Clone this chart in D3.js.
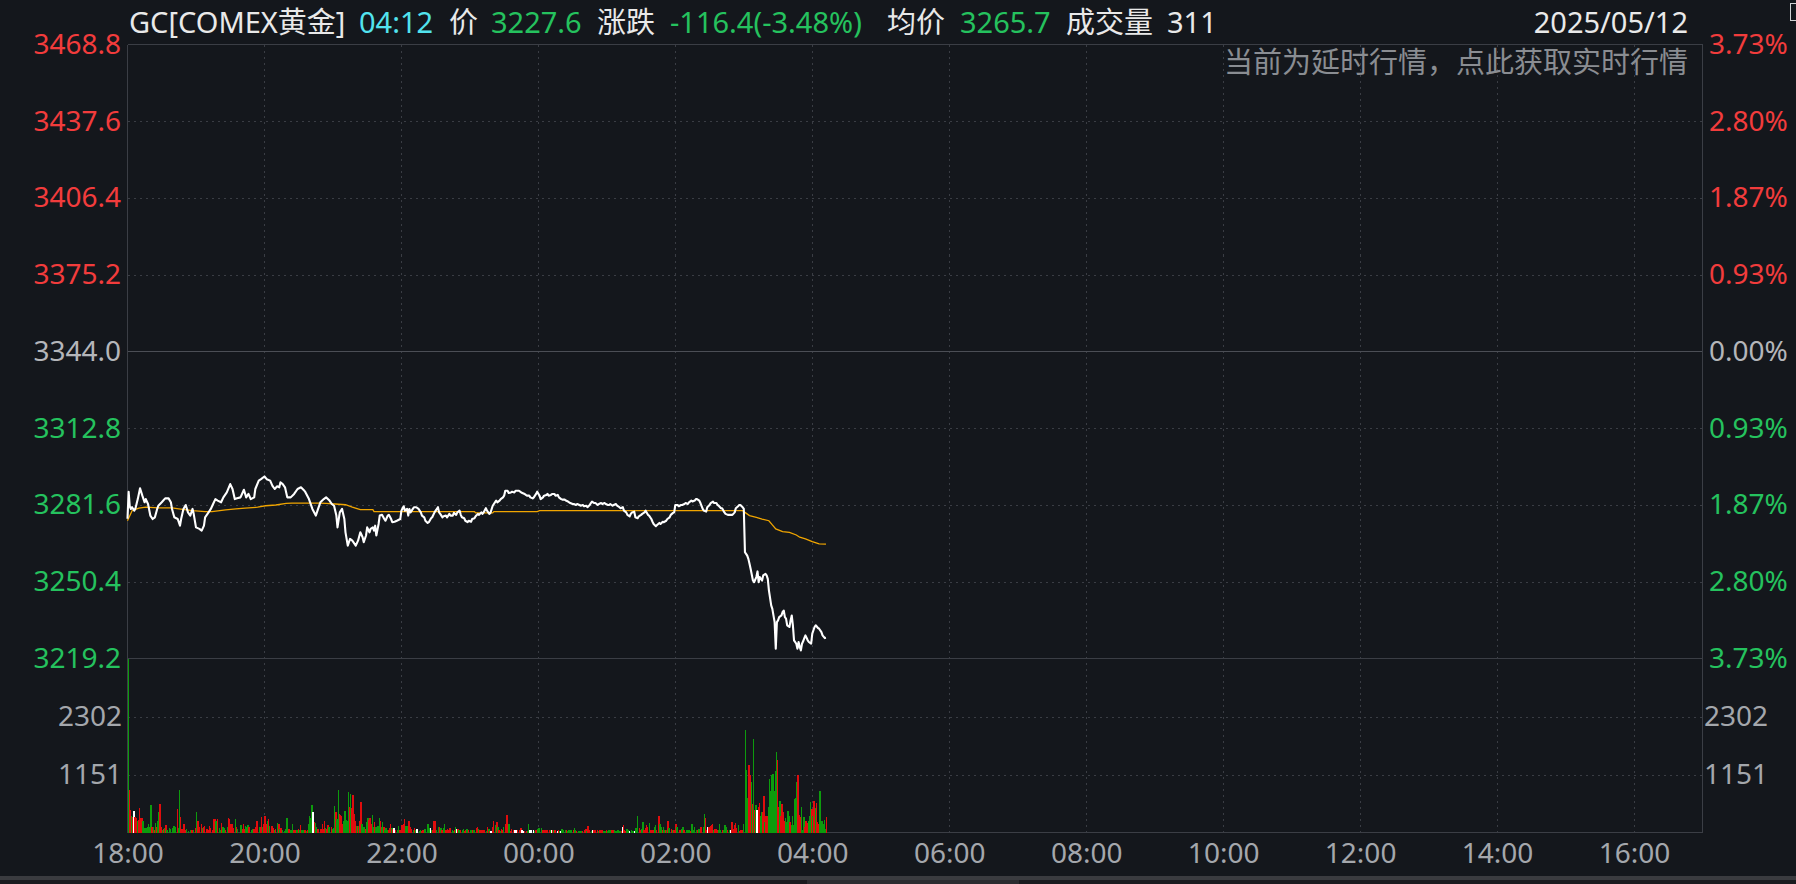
<!DOCTYPE html>
<html><head><meta charset="utf-8">
<script src="https://cdn.jsdelivr.net/npm/d3@7"></script>
<style>
html,body{margin:0;padding:0;background:#14171c;overflow:hidden}
svg{display:block}
text{font-family:"Noto Sans","Noto Sans CJK SC",sans-serif}
</style></head><body>
<svg id="c" width="1796" height="884"></svg>
<script>
// ---------- data ----------
const prevClose = 3344.0;
const priceTicks = [3468.8, 3437.6, 3406.4, 3375.2, 3344.0, 3312.8, 3281.6, 3250.4, 3219.2];
const pctLabels = ["3.73%", "2.80%", "1.87%", "0.93%", "0.00%", "0.93%", "1.87%", "2.80%", "3.73%"];
const volTicks = [1151, 2302];
const volMax = 3453;
const sessionMinutes = 1380; // 18:00 -> 17:00
const timeTicks = [0, 120, 240, 360, 480, 600, 720, 840, 960, 1080, 1200, 1320];
const timeLabels = ["18:00", "20:00", "22:00", "00:00", "02:00", "04:00", "06:00", "08:00", "10:00", "12:00", "14:00", "16:00"];

const headerItems = [
  ["GC[COMEX黄金]", "name"], ["04:12", "time"], ["价", "label"], ["3227.6", "down"],
  ["涨跌", "label"], ["-116.4(-3.48%)", "down"], ["均价", "label"], ["3265.7", "down"],
  ["成交量", "label"], ["311", "label"]
];
const dateText = "2025/05/12";
const noticeText = "当前为延时行情，点此获取实时行情";

// [minute from 18:00, price]
const pricePoints = [
[0,3276.0],[1,3287.0],[2,3281.0],[3,3280.0],[4,3280.7],[6,3279.3],[7,3280.3],[9,3284.0],[11,3288.4],[13,3285.4],
[15,3282.7],[16,3284.0],[18,3282.0],[20,3277.3],[22,3275.9],[24,3276.6],[26,3280.0],[27,3281.3],[30,3282.7],[33,3284.3],
[36,3284.3],[38,3282.7],[39,3280.0],[41,3276.6],[44,3275.9],[46,3273.2],[47,3275.9],[49,3280.0],[51,3281.6],[53,3278.6],
[55,3277.3],[57,3280.0],[58,3278.0],[60,3272.5],[63,3271.9],[65,3271.2],[67,3273.2],[68,3276.6],[71,3278.6],[73,3280.0],
[75,3282.0],[77,3284.0],[79,3283.4],[82,3282.7],[84,3284.7],[87,3286.7],[90,3290.1],[92,3288.1],[94,3284.0],[96,3284.3],
[99,3284.7],[102,3287.8],[104,3284.7],[106,3286.1],[108,3284.0],[111,3284.7],[112,3288.1],[115,3291.5],[117,3292.1],[120,3293.2],
[122,3292.1],[125,3291.5],[127,3289.4],[129,3288.1],[131,3289.2],[133,3288.8],[134,3290.8],[136,3290.1],[138,3288.8],[140,3284.7],
[143,3284.7],[146,3286.1],[149,3288.1],[152,3288.8],[155,3287.4],[156,3286.7],[159,3284.0],[162,3280.0],[165,3277.3],[167,3280.0],
[169,3282.7],[172,3284.0],[174,3284.7],[177,3283.4],[179,3282.0],[181,3281.3],[183,3277.3],[184,3272.5],[186,3278.6],[188,3280.0],
[190,3275.9],[191,3270.5],[193,3265.1],[195,3267.8],[197,3267.1],[200,3265.1],[202,3267.1],[204,3270.5],[206,3268.5],[207,3266.5],
[209,3269.2],[210,3272.5],[212,3270.5],[213,3271.9],[215,3272.5],[216,3271.2],[217,3273.2],[218,3269.2],[220,3273.9],[221,3277.3],
[223,3277.6],[225,3275.9],[226,3275.2],[228,3277.3],[229,3277.6],[231,3275.9],[232,3274.6],[234,3274.8],[236,3275.2],[239,3275.9],
[240,3279.3],[242,3281.1],[243,3279.3],[245,3280.0],[246,3277.3],[247,3280.0],[248,3278.6],[250,3280.0],[251,3280.7],[253,3280.7],
[255,3280.0],[257,3278.6],[258,3277.3],[260,3276.6],[261,3275.2],[263,3274.3],[264,3274.6],[266,3276.2],[267,3276.6],[269,3278.6],
[270,3279.3],[272,3280.7],[273,3278.6],[274,3278.0],[276,3276.6],[277,3277.0],[279,3277.3],[280,3276.6],[282,3278.0],[283,3277.3],
[285,3277.3],[286,3278.4],[288,3277.6],[289,3278.6],[291,3279.3],[292,3277.6],[293,3276.6],[295,3276.2],[296,3275.2],[298,3274.6],
[299,3275.2],[301,3274.8],[302,3275.9],[304,3276.2],[305,3277.0],[307,3278.0],[308,3277.6],[310,3278.6],[311,3278.0],[312,3278.6],
[314,3280.3],[315,3279.3],[317,3278.0],[318,3278.4],[320,3281.3],[321,3282.0],[323,3283.4],[324,3282.7],[326,3283.4],[327,3284.0],
[329,3284.7],[330,3285.4],[331,3287.4],[333,3287.4],[334,3286.5],[336,3286.7],[337,3287.0],[339,3286.7],[340,3287.4],[342,3287.4],
[343,3287.4],[345,3286.7],[346,3286.5],[348,3286.1],[349,3285.7],[350,3285.4],[352,3285.4],[353,3284.7],[355,3284.3],[356,3284.7],
[358,3286.1],[359,3287.0],[361,3285.4],[362,3284.0],[364,3284.7],[365,3285.4],[367,3285.7],[368,3286.1],[369,3285.4],[371,3285.7],
[372,3286.1],[374,3286.1],[375,3285.4],[377,3285.7],[378,3284.7],[380,3284.0],[381,3283.8],[383,3283.8],[384,3283.4],[386,3283.0],
[387,3282.7],[388,3282.4],[390,3282.0],[391,3282.0],[393,3281.6],[394,3282.0],[396,3281.6],[397,3281.3],[399,3281.6],[400,3281.1],
[402,3281.3],[403,3280.7],[405,3281.6],[406,3282.4],[407,3283.0],[409,3282.4],[410,3282.4],[412,3281.6],[413,3282.0],[415,3282.4],
[416,3282.0],[418,3282.4],[419,3282.0],[421,3281.6],[422,3281.6],[423,3282.0],[425,3281.3],[426,3281.6],[428,3282.0],[429,3281.3],
[431,3280.7],[432,3280.3],[434,3280.7],[435,3279.3],[437,3278.6],[438,3277.6],[440,3277.0],[441,3278.0],[442,3278.6],[444,3278.9],
[445,3276.6],[447,3276.2],[448,3277.0],[450,3277.6],[451,3278.0],[453,3278.6],[454,3279.3],[456,3277.6],[457,3277.3],[459,3275.9],
[460,3274.8],[461,3273.9],[463,3273.0],[464,3273.5],[466,3274.3],[467,3273.9],[469,3274.8],[470,3274.6],[472,3275.2],[473,3275.9],
[475,3276.6],[476,3277.6],[478,3278.4],[479,3278.6],[480,3281.6],[482,3281.6],[483,3281.1],[485,3281.6],[486,3281.6],[488,3282.0],
[489,3282.4],[491,3282.0],[492,3282.7],[494,3283.4],[495,3283.0],[497,3283.4],[498,3284.0],[499,3284.0],[501,3283.4],[502,3282.4],
[504,3280.0],[505,3279.3],[507,3278.9],[508,3280.7],[510,3281.6],[511,3282.4],[513,3283.0],[514,3282.4],[516,3282.4],[517,3281.6],
[518,3281.3],[520,3280.3],[521,3280.3],[523,3278.6],[524,3278.0],[526,3277.6],[527,3277.6],[529,3277.6],[530,3277.6],[532,3278.6],
[533,3280.3],[535,3281.1],[536,3281.6],[537,3281.6],[539,3280.7],[540,3280.0],[541,3262.4],[542,3261.7],[543,3261.0],[544,3259.7],
[545,3257.7],[546,3255.6],[548,3250.9],[549,3250.2],[551,3252.3],[552,3254.6],[553,3250.2],[554,3252.3],[556,3250.9],[557,3253.0],
[559,3253.6],[560,3253.0],[561,3251.6],[562,3246.9],[564,3240.8],[565,3239.4],[567,3234.0],[568,3223.2],[569,3234.0],[570,3234.7],
[571,3236.0],[573,3236.7],[574,3238.1],[575,3238.7],[576,3236.0],[577,3235.4],[578,3232.7],[580,3232.0],[581,3234.7],[582,3236.7],
[583,3232.7],[584,3226.6],[586,3225.2],[587,3223.2],[588,3225.9],[589,3223.9],[590,3222.5],[591,3225.2],[592,3226.2],[593,3227.5],
[594,3228.6],[596,3226.6],[597,3225.9],[599,3225.2],[600,3229.3],[602,3232.0],[603,3232.7],[605,3231.6],[606,3231.3],[608,3229.9],
[609,3228.6],[611,3227.5],[612,3227.6]
];

// [minute, average price]
const avgPoints = [
[0,3275.2],[4,3279.3],[10,3280.3],[16,3280.7],[27,3280.4],[39,3280.4],[45,3280.0],[57,3279.3],[68,3278.9],[74,3278.9],
[86,3279.6],[95,3280.0],[103,3280.3],[114,3280.7],[121,3281.3],[130,3281.6],[139,3282.3],[144,3282.4],[168,3282.4],[174,3282.3],
[182,3282.0],[191,3281.7],[197,3280.7],[204,3279.7],[215,3279.7],[216,3278.9],[304,3278.9],[305,3278.4],[320,3278.4],[321,3278.9],
[359,3278.9],[361,3279.3],[539,3279.3],[541,3278.6],[545,3277.3],[551,3276.6],[556,3275.9],[562,3275.2],[565,3273.5],[568,3271.9],
[574,3270.8],[580,3270.5],[586,3269.4],[589,3268.5],[594,3267.8],[600,3266.7],[606,3265.8],[612,3265.7]
];

// [minute, volume, direction r=up g=down w=flat]
const volumeBars = [
[0,3453,"g"],[1,853,"r"],[2,437,"r"],[3,337,"g"],[4,304,"r"],[5,423,"w"],[6,304,"r"],[7,291,"r"],[8,238,"g"],[9,251,"r"],
[10,489,"r"],[11,291,"r"],[12,291,"r"],[13,238,"g"],[14,93,"g"],[15,93,"g"],[16,93,"g"],[17,119,"g"],[18,172,"g"],[19,106,"g"],
[20,536,"g"],[21,119,"r"],[22,119,"g"],[23,53,"r"],[24,198,"g"],[25,119,"r"],[26,238,"g"],[27,397,"g"],[28,556,"r"],[29,119,"r"],
[30,53,"g"],[31,73,"r"],[32,93,"g"],[33,139,"r"],[34,40,"g"],[36,93,"g"],[37,73,"g"],[39,93,"g"],[40,132,"g"],[41,119,"g"],
[43,476,"r"],[44,93,"g"],[45,853,"g"],[46,317,"r"],[47,73,"r"],[49,159,"r"],[50,40,"r"],[51,66,"g"],[53,20,"g"],[55,53,"g"],
[56,40,"r"],[57,40,"g"],[59,86,"r"],[60,397,"g"],[61,238,"r"],[62,119,"r"],[64,172,"r"],[65,93,"g"],[66,106,"r"],[67,132,"r"],
[69,73,"r"],[70,40,"r"],[71,132,"r"],[72,93,"r"],[74,40,"r"],[75,258,"r"],[76,271,"r"],[77,238,"g"],[78,265,"r"],[80,93,"g"],
[81,40,"g"],[82,192,"r"],[83,119,"g"],[84,93,"g"],[85,40,"r"],[87,106,"g"],[88,278,"r"],[89,258,"r"],[90,172,"r"],[91,159,"r"],
[92,93,"r"],[94,258,"g"],[95,119,"r"],[96,73,"g"],[99,139,"g"],[100,79,"r"],[101,159,"r"],[102,66,"r"],[103,132,"g"],[104,119,"g"],
[105,152,"g"],[106,119,"r"],[108,40,"g"],[109,73,"g"],[110,73,"r"],[111,66,"r"],[112,106,"r"],[113,238,"r"],[115,119,"g"],[116,106,"r"],
[117,317,"r"],[118,119,"g"],[119,172,"r"],[120,331,"r"],[121,172,"r"],[122,238,"g"],[123,265,"r"],[124,132,"g"],[126,132,"r"],[127,93,"r"],
[128,40,"g"],[129,73,"r"],[131,198,"g"],[132,172,"r"],[133,79,"g"],[134,93,"r"],[135,40,"g"],[137,26,"g"],[138,73,"g"],[139,278,"g"],
[141,66,"r"],[142,40,"g"],[143,53,"g"],[144,159,"g"],[145,53,"r"],[146,40,"r"],[148,53,"g"],[149,60,"r"],[150,40,"g"],[151,139,"r"],
[152,40,"g"],[153,53,"g"],[155,40,"r"],[156,26,"g"],[157,53,"r"],[158,159,"g"],[159,337,"g"],[160,291,"g"],[161,536,"g"],[162,397,"w"],
[163,205,"r"],[164,198,"g"],[165,106,"g"],[166,73,"r"],[167,66,"r"],[169,73,"r"],[170,159,"r"],[171,66,"r"],[172,238,"r"],[173,93,"g"],
[174,66,"r"],[175,139,"r"],[176,119,"g"],[178,106,"r"],[179,73,"g"],[180,93,"g"],[181,516,"g"],[182,403,"r"],[183,265,"g"],[184,853,"g"],
[185,370,"r"],[186,357,"r"],[187,331,"r"],[188,159,"r"],[189,238,"g"],[190,423,"g"],[191,251,"g"],[192,225,"g"],[193,813,"g"],[194,503,"r"],
[195,767,"g"],[196,489,"r"],[197,754,"r"],[198,370,"r"],[199,238,"r"],[200,132,"g"],[201,132,"r"],[202,132,"g"],[203,238,"r"],[204,615,"r"],
[205,159,"g"],[206,119,"g"],[207,106,"g"],[208,66,"r"],[209,212,"g"],[210,291,"g"],[211,251,"r"],[212,278,"r"],[213,172,"r"],[214,357,"g"],
[215,119,"g"],[216,218,"r"],[217,106,"g"],[218,79,"g"],[219,132,"g"],[220,291,"g"],[221,238,"r"],[222,106,"g"],[223,218,"g"],[224,119,"r"],
[225,40,"g"],[226,93,"g"],[227,40,"g"],[228,53,"r"],[229,93,"r"],[230,172,"r"],[231,93,"g"],[232,66,"r"],[233,93,"w"],[234,40,"r"],
[236,40,"g"],[237,132,"g"],[238,40,"r"],[239,40,"r"],[240,146,"r"],[241,172,"r"],[242,258,"r"],[243,132,"g"],[244,132,"g"],[245,132,"g"],
[246,238,"r"],[247,119,"r"],[248,66,"r"],[250,40,"g"],[251,93,"r"],[252,40,"g"],[253,66,"w"],[255,26,"g"],[256,40,"g"],[257,26,"r"],
[258,53,"r"],[259,40,"r"],[260,73,"g"],[262,159,"g"],[263,159,"g"],[264,93,"g"],[265,93,"w"],[266,40,"g"],[267,53,"r"],[268,238,"r"],
[269,238,"r"],[270,40,"g"],[272,106,"g"],[273,119,"r"],[274,93,"g"],[275,53,"r"],[276,93,"g"],[277,159,"g"],[278,53,"r"],[279,40,"r"],
[280,73,"r"],[281,40,"r"],[282,93,"r"],[284,40,"g"],[285,26,"g"],[286,40,"r"],[287,119,"g"],[288,66,"w"],[289,66,"r"],[290,40,"g"],
[291,40,"r"],[293,40,"g"],[294,73,"g"],[295,26,"r"],[296,40,"r"],[297,66,"g"],[298,40,"r"],[300,40,"g"],[301,40,"g"],[302,53,"r"],
[303,40,"g"],[305,93,"r"],[306,119,"r"],[307,66,"g"],[308,53,"r"],[309,53,"r"],[311,40,"r"],[312,53,"r"],[314,26,"g"],[315,119,"r"],
[316,66,"g"],[317,26,"r"],[318,26,"w"],[319,106,"r"],[320,238,"r"],[322,139,"g"],[323,218,"r"],[324,106,"g"],[325,53,"r"],[326,26,"g"],
[327,73,"r"],[328,40,"r"],[329,106,"g"],[331,159,"r"],[332,357,"r"],[333,159,"g"],[334,159,"g"],[335,26,"r"],[336,66,"r"],[338,53,"r"],
[339,40,"w"],[340,40,"w"],[341,53,"r"],[343,53,"r"],[344,86,"r"],[345,40,"w"],[346,26,"w"],[347,26,"r"],[349,26,"r"],[350,26,"g"],
[351,159,"g"],[352,40,"w"],[353,40,"w"],[355,40,"w"],[356,26,"g"],[357,40,"r"],[358,40,"r"],[359,73,"g"],[360,93,"g"],[362,93,"g"],
[363,40,"r"],[364,40,"r"],[365,40,"r"],[366,40,"r"],[367,40,"r"],[369,40,"r"],[370,40,"g"],[371,40,"w"],[372,40,"r"],[373,40,"g"],
[374,40,"r"],[376,26,"w"],[377,40,"r"],[378,26,"g"],[379,26,"w"],[380,79,"g"],[381,53,"g"],[383,40,"g"],[384,40,"r"],[385,26,"g"],
[386,53,"g"],[387,40,"g"],[388,53,"g"],[390,40,"r"],[391,93,"g"],[392,40,"g"],[393,26,"r"],[395,26,"g"],[396,26,"g"],[397,26,"g"],
[398,26,"r"],[400,53,"r"],[401,66,"r"],[402,26,"g"],[403,132,"r"],[404,53,"r"],[406,26,"g"],[407,40,"w"],[408,40,"r"],[409,40,"r"],
[411,40,"r"],[412,26,"g"],[413,40,"r"],[414,40,"r"],[415,40,"r"],[417,26,"g"],[418,26,"g"],[419,40,"r"],[420,26,"g"],[421,40,"g"],
[422,40,"g"],[424,40,"r"],[425,40,"r"],[426,40,"g"],[427,26,"g"],[428,26,"g"],[429,40,"g"],[431,26,"g"],[432,26,"r"],[433,106,"w"],
[434,152,"r"],[435,40,"r"],[436,26,"r"],[437,66,"g"],[438,40,"g"],[439,26,"w"],[441,40,"g"],[442,26,"g"],[443,26,"g"],[444,26,"w"],
[445,93,"g"],[446,337,"g"],[448,93,"r"],[449,40,"r"],[450,66,"g"],[451,218,"g"],[452,40,"r"],[453,93,"r"],[454,139,"r"],[455,106,"r"],
[457,198,"g"],[458,40,"r"],[459,40,"r"],[460,40,"r"],[461,106,"g"],[462,152,"g"],[463,40,"r"],[465,337,"r"],[466,159,"g"],[467,106,"g"],
[468,40,"r"],[469,106,"g"],[470,40,"g"],[471,40,"r"],[472,40,"g"],[473,238,"r"],[474,93,"g"],[476,73,"r"],[477,40,"g"],[478,40,"r"],
[479,40,"r"],[480,172,"r"],[481,106,"g"],[483,40,"r"],[484,40,"r"],[485,66,"g"],[486,119,"g"],[487,40,"r"],[489,53,"g"],[490,53,"g"],
[491,53,"g"],[492,40,"g"],[493,26,"r"],[494,172,"g"],[495,40,"g"],[496,119,"g"],[498,40,"g"],[499,40,"r"],[500,73,"g"],[501,73,"g"],
[502,106,"r"],[504,106,"g"],[505,370,"g"],[506,278,"r"],[507,53,"r"],[508,106,"w"],[509,119,"r"],[510,132,"r"],[511,139,"r"],[512,172,"r"],
[513,40,"g"],[514,79,"r"],[515,66,"r"],[516,40,"r"],[517,40,"g"],[518,172,"g"],[519,53,"g"],[521,40,"r"],[522,40,"g"],[523,139,"g"],
[524,106,"g"],[525,40,"r"],[527,53,"g"],[528,40,"w"],[529,212,"r"],[530,66,"r"],[531,139,"r"],[532,198,"r"],[533,93,"r"],[535,139,"g"],
[536,26,"r"],[537,40,"r"],[538,40,"r"],[539,159,"g"],[541,2037,"g"],[542,1243,"g"],[543,688,"g"],[544,1349,"r"],[545,1144,"r"],[546,1012,"g"],
[547,569,"r"],[548,1865,"g"],[549,437,"r"],[550,549,"g"],[551,437,"w"],[552,503,"r"],[553,595,"r"],[554,318,"g"],[555,397,"g"],[556,397,"r"],
[557,734,"r"],[558,205,"g"],[559,318,"r"],[560,318,"r"],[561,503,"g"],[562,1065,"g"],[563,833,"g"],[564,1151,"g"],[565,1164,"g"],[566,833,"g"],
[567,1230,"g"],[568,1607,"g"],[569,1429,"r"],[570,503,"r"],[571,635,"g"],[572,318,"r"],[573,569,"r"],[574,410,"r"],[575,238,"r"],[576,291,"g"],
[577,205,"g"],[578,417,"g"],[579,337,"g"],[580,205,"r"],[581,139,"g"],[582,337,"g"],[583,139,"g"],[584,655,"g"],[585,688,"g"],[586,999,"g"],
[587,1151,"r"],[588,357,"r"],[589,304,"r"],[590,503,"g"],[591,40,"g"],[592,304,"g"],[593,119,"r"],[594,238,"r"],[595,185,"r"],[596,225,"g"],
[597,318,"g"],[598,602,"g"],[599,476,"r"],[600,337,"g"],[601,635,"r"],[602,483,"g"],[603,589,"r"],[604,218,"r"],[605,172,"r"],[606,833,"g"],
[607,139,"g"],[608,238,"g"],[609,172,"g"],[610,251,"g"],[611,79,"g"],[612,311,"r"]
];

// ---------- drawing ----------
const W = 1796, H = 884;
const L = 127.5, R = 1702.5, PT = 44.5, PB = 658.5, VB = 832.5;
const C = {
  bg: "#14171c", grid: "#3a3d44", frame: "#3b3e45", zero: "#4b4e55",
  up: "#f23c3c", down: "#25c25e", flat: "#b4b6ba", axisGray: "#a4a7ac",
  white: "#e9e9e9", cyan: "#52e3ee", notice: "#8a8d92",
  price: "#ffffff", avg: "#f0a500",
  barUp: "#e00d0d", barDown: "#0d9b0d", barFlat: "#ffffff"
};
const FS = 28;

const svg = d3.select("#c");
svg.append("rect").attr("width", W).attr("height", H).attr("fill", C.bg);

const x = d3.scaleLinear().domain([0, sessionMinutes]).range([L, R]);
const y = d3.scaleLinear().domain([priceTicks[priceTicks.length - 1], priceTicks[0]]).range([PB, PT]);
const yv = d3.scaleLinear().domain([0, volMax]).range([VB, PB]);

const grid = svg.append("g").attr("shape-rendering", "crispEdges");
grid.selectAll("line.vg").data(timeTicks.slice(1)).join("line")
  .attr("x1", d => Math.round(x(d)) + 0.5).attr("x2", d => Math.round(x(d)) + 0.5)
  .attr("y1", PT).attr("y2", VB)
  .attr("stroke", C.grid).attr("stroke-dasharray", "2,4");
grid.selectAll("line.hg").data(priceTicks.filter(d => d !== prevClose && d !== priceTicks[0] && d !== priceTicks[priceTicks.length - 1])).join("line")
  .attr("x1", L).attr("x2", R)
  .attr("y1", d => Math.round(y(d)) + 0.5).attr("y2", d => Math.round(y(d)) + 0.5)
  .attr("stroke", C.grid).attr("stroke-dasharray", "2,4");
grid.selectAll("line.vgg").data(volTicks).join("line")
  .attr("x1", L).attr("x2", R)
  .attr("y1", d => Math.round(yv(d)) + 0.5).attr("y2", d => Math.round(yv(d)) + 0.5)
  .attr("stroke", C.grid).attr("stroke-dasharray", "2,4");
[[L, PT, R, PT, C.frame], [L, PB, R, PB, C.frame], [L, VB, R, VB, C.frame],
 [L, y(prevClose), R, y(prevClose), C.zero], [L, PT, L, VB, C.frame], [R, PT, R, VB, C.frame]]
 .forEach(s => grid.append("line").attr("x1", s[0]).attr("y1", s[1]).attr("x2", s[2]).attr("y2", s[3]).attr("stroke", s[4]));

// volume bars
const barColor = { r: C.barUp, g: C.barDown, w: C.barFlat };
svg.append("g").attr("shape-rendering", "crispEdges")
  .selectAll("rect").data(volumeBars).join("rect")
  .attr("x", d => x(d[0]))
  .attr("width", 1.4)
  .attr("y", d => yv(d[1]))
  .attr("height", d => VB - yv(d[1]))
  .attr("fill", d => barColor[d[2]]);

// average and price lines
const line = d3.line().x(d => x(d[0])).y(d => y(d[1]));
svg.append("path").datum(avgPoints).attr("d", line)
  .attr("fill", "none").attr("stroke", C.avg).attr("stroke-width", 1.3);
svg.append("path").datum(pricePoints).attr("d", line)
  .attr("fill", "none").attr("stroke", C.price).attr("stroke-width", 2.1).attr("stroke-linejoin", "round");

// axes
function styleAxis(g) {
  g.select(".domain").remove();
  g.selectAll(".tick line").remove();
  g.selectAll("text").attr("font-size", FS).attr("font-family", '"Noto Sans","Noto Sans CJK SC",sans-serif');
}
const priceColor = d => d > prevClose ? C.up : (d < prevClose ? C.down : C.flat);

svg.append("g").attr("transform", "translate(121,0)")
  .call(d3.axisLeft(y).tickValues(priceTicks).tickFormat(d => d.toFixed(1)).tickSize(0).tickPadding(0))
  .call(styleAxis)
  .selectAll(".tick text").attr("fill", d => priceColor(d));

svg.append("g").attr("transform", "translate(1709,0)")
  .call(d3.axisRight(y).tickValues(priceTicks).tickFormat((d, i) => pctLabels[i]).tickSize(0).tickPadding(0))
  .call(styleAxis)
  .selectAll(".tick text").attr("fill", d => priceColor(d));

svg.append("g").attr("transform", "translate(122,0)")
  .call(d3.axisLeft(yv).tickValues(volTicks).tickFormat(d3.format("d")).tickSize(0).tickPadding(0))
  .call(styleAxis)
  .selectAll(".tick text").attr("fill", C.axisGray);

svg.append("g").attr("transform", "translate(1704,0)")
  .call(d3.axisRight(yv).tickValues(volTicks).tickFormat(d3.format("d")).tickSize(0).tickPadding(0))
  .call(styleAxis)
  .selectAll(".tick text").attr("fill", C.axisGray);

svg.append("g").attr("transform", `translate(0,${VB})`)
  .call(d3.axisBottom(x).tickValues(timeTicks).tickFormat((d, i) => timeLabels[i]).tickSize(0).tickPadding(11))
  .call(styleAxis)
  .selectAll(".tick text").attr("fill", C.axisGray);

// header
const headerX = [129, 359, 449, 491, 597, 670, 887, 960, 1066, 1167];
const headerColor = { name: C.white, time: C.cyan, label: C.white, down: C.down };
const hdr = svg.append("g").attr("font-size", 29);
hdr.selectAll("text").data(headerItems).join("text")
  .attr("x", (d, i) => headerX[i]).attr("y", 33)
  .attr("fill", d => headerColor[d[1]])
  .text(d => d[0]);
hdr.append("text").attr("x", 1688).attr("y", 33).attr("text-anchor", "end")
  .attr("fill", C.white).text(dateText);
svg.append("text").attr("x", 1688).attr("y", 73).attr("text-anchor", "end")
  .attr("font-size", 29).attr("fill", C.notice).text(noticeText);

// top-right small marker and bottom scroll strip
svg.append("rect").attr("x", 1790.5).attr("y", 3.5).attr("width", 6).attr("height", 17)
  .attr("fill", "none").attr("stroke", "#cfd0d2");
svg.append("rect").attr("x", 0).attr("y", 876).attr("width", W).attr("height", 4).attr("fill", "#3a3b3f");
svg.append("rect").attr("x", 0).attr("y", 880).attr("width", W).attr("height", 4).attr("fill", "#1a1b1f");
svg.append("rect").attr("x", 807).attr("y", 880).attr("width", 212).attr("height", 4).attr("fill", "#2b2c30");
</script>
</body></html>
